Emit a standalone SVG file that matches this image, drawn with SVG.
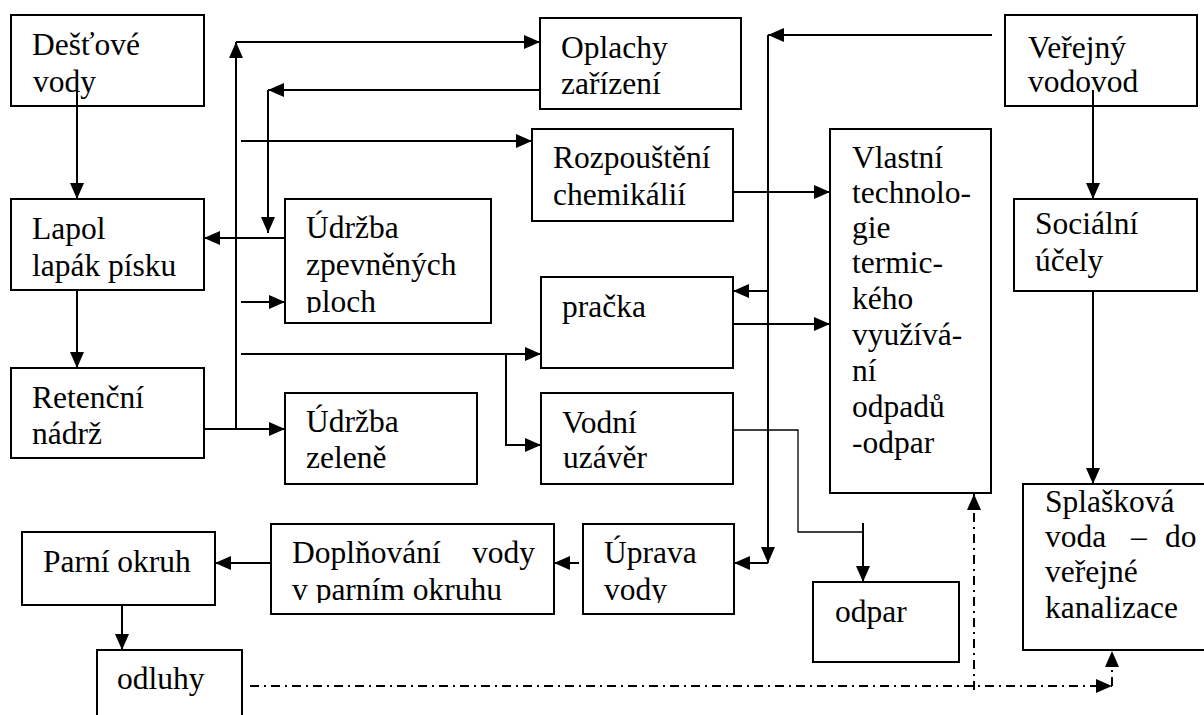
<svg xmlns="http://www.w3.org/2000/svg" width="1204" height="715" viewBox="0 0 1204 715">
<style>
  .box { fill: #fff; stroke: #000; stroke-width: 2; }
  text { font-family: 'Liberation Serif', Tinos, 'Times New Roman', Times, 'DejaVu Serif', serif; font-size: 31.5px; fill: #000; }
  .ln { fill: none; stroke: #000; stroke-width: 2; }
  .thin { fill: none; stroke: #000; stroke-width: 1.3; }
  .dd { fill: none; stroke: #000; stroke-width: 2; stroke-dasharray: 9 5 2 5; }
</style>
<defs>
  <marker id="ah" markerUnits="userSpaceOnUse" markerWidth="16" markerHeight="14" refX="16" refY="7" orient="auto">
    <path d="M0,0 L16,7 L0,14 z" fill="#000"/>
  </marker>
  <clipPath id="c1"><rect x="285" y="199" width="206" height="114"/></clipPath>
  <clipPath id="c2"><rect x="260" y="520" width="480" height="83"/></clipPath>
</defs>
<rect width="1204" height="715" fill="#fff"/>

<g id="destove">
  <rect class="box" x="11" y="15" width="193" height="91"/>
  <text x="32" y="55">Dešťové</text>
  <text x="33" y="92">vody</text>
</g>
<g id="lapol">
  <rect class="box" x="11" y="199" width="193" height="91"/>
  <text x="32" y="239">Lapol</text>
  <text x="32" y="276">lapák písku</text>
</g>
<g id="retencni">
  <rect class="box" x="11" y="368" width="193" height="90"/>
  <text x="32" y="408">Retenční</text>
  <text x="32" y="444">nádrž</text>
</g>
<g id="oplachy">
  <rect class="box" x="540" y="18" width="201" height="91"/>
  <text x="561" y="58">Oplachy</text>
  <text x="561" y="94">zařízení</text>
</g>
<g id="rozpousteni">
  <rect class="box" x="532" y="129" width="201" height="92"/>
  <text x="553" y="168">Rozpouštění</text>
  <text x="553" y="205">chemikálií</text>
</g>
<g id="vlastni">
  <rect class="box" x="830" y="129" width="161" height="364"/>
  <text x="852" y="168">Vlastní</text>
  <text x="852" y="203">technolo-</text>
  <text x="852" y="238">gie</text>
  <text x="852" y="273">termic-</text>
  <text x="852" y="309">kého</text>
  <text x="852" y="345">využívá-</text>
  <text x="852" y="381">ní</text>
  <text x="852" y="417">odpadů</text>
  <text x="852" y="453">-odpar</text>
</g>
<g id="verejny">
  <rect class="box" x="1005" y="15" width="192" height="91"/>
  <text x="1028" y="58">Veřejný</text>
  <text x="1028" y="92">vodovod</text>
</g>
<g id="socialni">
  <rect class="box" x="1014" y="199" width="183" height="92"/>
  <text x="1035" y="234">Sociální</text>
  <text x="1035" y="271">účely</text>
</g>
<g id="splaskova">
  <rect class="box" x="1023" y="484" width="190" height="166"/>
  <text x="1045" y="512">Splašková</text>
  <text y="547"><tspan x="1045">voda</tspan><tspan x="1131">–</tspan><tspan x="1165">do</tspan></text>
  <text x="1045" y="582">veřejné</text>
  <text x="1045" y="618">kanalizace</text>
</g>
<g id="udrzba-zpevnenych">
  <rect class="box" x="285" y="199" width="206" height="124"/>
  <g clip-path="url(#c1)">
    <text x="306" y="238">Údržba</text>
    <text x="306" y="275">zpevněných</text>
    <text x="306" y="312">ploch</text>
  </g>
</g>
<g id="udrzba-zelene">
  <rect class="box" x="285" y="393" width="192" height="91"/>
  <text x="306" y="432">Údržba</text>
  <text x="306" y="468">zeleně</text>
</g>
<g id="pracka">
  <rect class="box" x="541" y="277" width="192" height="91"/>
  <text x="562" y="317">pračka</text>
</g>
<g id="vodni-uzaver">
  <rect class="box" x="541" y="393" width="192" height="91"/>
  <text x="562" y="433">Vodní</text>
  <text x="563" y="468">uzávěr</text>
</g>
<g id="parni-okruh">
  <rect class="box" x="22" y="532" width="193" height="73"/>
  <text x="43" y="572">Parní okruh</text>
</g>
<g id="doplnovani">
  <rect class="box" x="271" y="524" width="283" height="90"/>
  <g clip-path="url(#c2)">
    <text y="563"><tspan x="292">Doplňování</tspan><tspan x="472">vody</tspan></text>
    <text x="292" y="600">v parním okruhu</text>
  </g>
</g>
<g id="uprava">
  <rect class="box" x="583" y="524" width="151" height="90"/>
  <g clip-path="url(#c2)">
    <text x="604" y="563">Úprava</text>
    <text x="604" y="600">vody</text>
  </g>
</g>
<g id="odpar">
  <rect class="box" x="813" y="582" width="146" height="80"/>
  <text x="835" y="622">odpar</text>
</g>
<g id="odluhy">
  <rect class="box" x="97" y="650" width="145" height="80"/>
  <text x="117" y="689">odluhy</text>
</g>

<g id="connectors">
  <path class="ln" d="M77,90 V199" marker-end="url(#ah)"/>
  <path class="ln" d="M77,290 V368" marker-end="url(#ah)"/>
  <path class="ln" d="M236,429 V42" marker-end="url(#ah)"/>
  <path class="ln" d="M236,42 H540" marker-end="url(#ah)"/>
  <path class="ln" d="M540,90 H268" marker-end="url(#ah)"/>
  <path class="ln" d="M268,90 V233" marker-end="url(#ah)"/>
  <path class="ln" d="M241,141 H532" marker-end="url(#ah)"/>
  <path class="ln" d="M285,238 H204" marker-end="url(#ah)"/>
  <path class="ln" d="M241,302 H285" marker-end="url(#ah)"/>
  <path class="ln" d="M241,354 H541" marker-end="url(#ah)"/>
  <path class="ln" d="M506,354 V445 H541" marker-end="url(#ah)"/>
  <path class="ln" d="M204,429 H285" marker-end="url(#ah)"/>
  <path class="ln" d="M733,192 H830" marker-end="url(#ah)"/>
  <path class="ln" d="M733,324 H830" marker-end="url(#ah)"/>
  <path class="ln" d="M992,35 H768" marker-end="url(#ah)"/>
  <path class="ln" d="M768,35 V563" marker-end="url(#ah)"/>
  <path class="ln" d="M768,291 H733" marker-end="url(#ah)"/>
  <path class="ln" d="M768,563 H734" marker-end="url(#ah)"/>
  <path class="thin" d="M733,430 H798 V532 H863"/>
  <path class="ln" d="M863,523 V582" marker-end="url(#ah)"/>
  <path class="ln" d="M1093,90 V199" marker-end="url(#ah)"/>
  <path class="ln" d="M1093,291 V484" marker-end="url(#ah)"/>
  <path class="ln" d="M122,605 V650" marker-end="url(#ah)"/>
  <path class="ln" d="M271,563 H215" marker-end="url(#ah)"/>
  <path class="ln" d="M579,563 H554" marker-end="url(#ah)"/>
  <path class="dd" d="M250,686 H1112" marker-end="url(#ah)"/>
  <path class="dd" d="M974,690 V494" marker-end="url(#ah)"/>
  <path class="dd" d="M1112,686 V651" marker-end="url(#ah)"/>
</g>
</svg>
